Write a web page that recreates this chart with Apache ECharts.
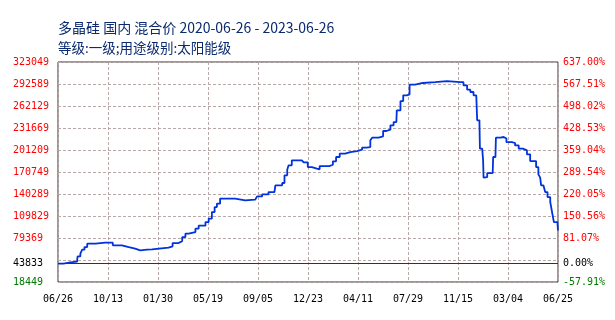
<!DOCTYPE html>
<html><head><meta charset="utf-8">
<script src="https://cdn.jsdelivr.net/npm/echarts@6/dist/echarts.min.js"></script>
<style>html,body{margin:0;padding:0;background:#fff}#c{width:615px;height:320px}</style>
</head><body><div id="c"></div>
<script>
const titleText = '多晶硅 国内 混合价 2020-06-26 - 2023-06-26';
const subText = '等级:一级;用途级别:太阳能级';
const xTickLabels = ['06/26','10/13','01/30','05/19','09/05','12/23','04/11','07/29','11/15','03/04','06/25'];
const totalDays = 1095;
const basePrice = 43833;
const yMin = 18449, yMax = 323049, yStep = 30460;
const days = [0,12,27,42,43,49,53,58,64,82,104,120,140,155,169,180,195,206,242,251,264,272,279,286,301,308,323,330,337,343,348,355,377,388,410,414,432,436,447,461,474,476,491,496,502,505,512,534,538,547,556,567,573,595,602,609,617,629,640,655,666,675,684,688,702,712,719,728,735,741,742,750,756,764,770,782,799,826,852,881,888,896,903,910,916,918,923,924,929,931,932,936,940,952,953,958,959,969,976,982,994,1001,1009,1018,1027,1034,1047,1052,1056,1058,1063,1067,1072,1078,1082,1086,1094,1095];
const prices = [43833,45600,46600,49400,53900,57700,63200,66800,71500,72900,72900,69200,66800,64600,62300,63200,63600,66000,67800,72400,75100,80700,85400,87600,92300,96500,101400,106200,115300,122200,126900,133900,133900,131500,130100,132500,132500,137000,139800,143000,143000,152300,155500,166100,174000,180000,186900,186900,184100,177600,175400,174400,179000,180900,185500,191500,196200,198400,199800,201700,204500,205300,214600,218300,220100,227500,229400,235400,239900,240900,256200,269000,276900,278300,291700,294000,295300,296700,295300,295300,290800,284800,281500,276900,276900,242300,237700,203100,200800,186900,162900,163800,169300,169300,191500,192400,218300,219200,217000,212200,210900,207600,203100,200800,195200,185900,177600,167500,162900,152300,149900,143000,136100,129200,115300,101400,98300,90000];

const lblFont = 'DejaVu Sans Mono';
const pct = v => ((v / basePrice - 1) * 100).toFixed(2) + '%';
const isHidden = v => Math.abs(v - (yMin + yStep)) < 1;
const labelColor = v => (Number(v) <= yMin + 1 ? '#007a00' : '#ff0000');
const gridDash = { color: '#b8a8a8', type: [3, 2], width: 1 };

const chart = echarts.init(document.getElementById('c'), null, { renderer: 'canvas' });
chart.setOption({
  animation: false,
  backgroundColor: '#fff',
  title: [
    { text: titleText, left: 58, top: 21, padding: 0,
      textStyle: { fontFamily: 'Noto Sans CJK SC', fontSize: 14, fontWeight: 'normal', color: '#0b2a6f' } },
    { text: subText, left: 58, top: 41, padding: 0,
      textStyle: { fontFamily: 'Noto Sans CJK SC', fontSize: 13.5, fontWeight: 'normal', color: '#0b2a6f' } }
  ],
  grid: { left: 58, right: 57, top: 62, bottom: 38, show: true, borderColor: '#333', borderWidth: 1, containLabel: false },
  xAxis: {
    type: 'value', min: 0, max: totalDays, interval: totalDays / 10,
    axisLine: { show: false }, axisTick: { show: false },
    splitLine: { show: true, lineStyle: gridDash },
    axisLabel: { showMinLabel: true, showMaxLabel: true, margin: 12, fontFamily: lblFont, fontSize: 10, color: '#000',
      formatter: v => xTickLabels[Math.round(v / (totalDays / 10))] }
  },
  yAxis: [
    { type: 'value', position: 'left', min: yMin, max: yMax, interval: yStep,
      axisLine: { show: false }, axisTick: { show: false },
      splitLine: { show: true, lineStyle: gridDash },
      axisLabel: { align: 'left', margin: 45, fontFamily: lblFont, fontSize: 10,
        formatter: v => isHidden(v) ? '' : String(Math.round(v)), color: labelColor } },
    { type: 'value', position: 'right', min: yMin, max: yMax, interval: yStep,
      axisLine: { show: false }, axisTick: { show: false }, splitLine: { show: false },
      axisLabel: { align: 'left', margin: 5, fontFamily: lblFont, fontSize: 10,
        formatter: v => isHidden(v) ? '' : pct(v), color: labelColor } },
    { type: 'value', position: 'left', min: yMin, max: yMax, interval: basePrice - yMin,
      axisLine: { show: false }, axisTick: { show: false }, splitLine: { show: false },
      axisLabel: { align: 'left', margin: 45, fontFamily: lblFont, fontSize: 10, color: '#000',
        showMinLabel: false, showMaxLabel: false,
        formatter: v => Math.abs(v - basePrice) < 1 ? String(basePrice) : '' } },
    { type: 'value', position: 'right', min: yMin, max: yMax, interval: basePrice - yMin,
      axisLine: { show: false }, axisTick: { show: false }, splitLine: { show: false },
      axisLabel: { align: 'left', margin: 5, fontFamily: lblFont, fontSize: 10, color: '#000',
        showMinLabel: false, showMaxLabel: false,
        formatter: v => Math.abs(v - basePrice) < 1 ? pct(v) : '' } }
  ],
  series: [{
    type: 'line', yAxisIndex: 0, step: 'end', showSymbol: false, symbol: 'none',
    lineStyle: { color: '#0033dd', width: 1.8 },
    data: days.map((d, i) => [d, prices[i]]),
    markLine: { silent: true, symbol: 'none', label: { show: false },
      lineStyle: { color: '#333', type: 'solid', width: 1 },
      data: [{ yAxis: basePrice }] },
    z: 3
  }]
});
</script></body></html>
